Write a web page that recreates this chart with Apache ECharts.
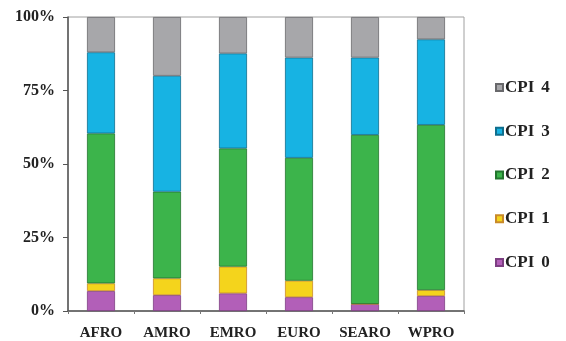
<!DOCTYPE html>
<html>
<head>
<meta charset="utf-8">
<script src="https://cdn.jsdelivr.net/npm/echarts@6/dist/echarts.min.js"></script>
<style>
  html, body { margin: 0; padding: 0; background: #ffffff; }
  #chart { width: 566px; height: 341px; }
</style>
</head>
<body>
<div id="chart"></div>
<script>
// Regions on the x axis
const regions = ['AFRO', 'AMRO', 'EMRO', 'EURO', 'SEARO', 'WPRO'];

// Share of each CPI level per region (percent)
const cpi0 = [6.8, 5.4, 6.0, 4.7, 2.4, 5.1];
const cpi1 = [2.6, 5.7, 9.1, 5.6, 0.0, 2.0];
const cpi2 = [51.0, 29.5, 40.2, 41.8, 57.5, 56.2];
const cpi3 = [27.6, 39.4, 32.3, 34.1, 26.3, 29.1];
const cpi4 = [12.0, 20.0, 12.4, 13.8, 13.8, 7.6];

// Y axis tick values
const yTicks = [0, 25, 50, 75, 100];

const seriesDefs = [
  { name: 'CPI 0', data: cpi0, color: '#b25fb8', border: '#7d3f82' },
  { name: 'CPI 1', data: cpi1, color: '#f4d41c', border: '#c98a2a' },
  { name: 'CPI 2', data: cpi2, color: '#3cb44b', border: '#23752e' },
  { name: 'CPI 3', data: cpi3, color: '#17b3e3', border: '#0f6f8e' },
  { name: 'CPI 4', data: cpi4, color: '#a7a7aa', border: '#68686b' }
];

const serifBold = {
  fontFamily: 'Liberation Serif',
  fontWeight: 'bold',
  color: '#222222'
};

const chart = echarts.init(document.getElementById('chart'), null, { renderer: 'canvas' });

chart.setOption({
  backgroundColor: '#ffffff',
  animation: false,
  grid: {
    left: 68, right: 102, top: 17, bottom: 30,
    show: true,
    borderColor: '#a0a0a0',
    borderWidth: 1
  },
  legend: {
    orient: 'vertical',
    left: 495,
    top: 79,
    padding: 0,
    itemWidth: 7,
    itemHeight: 7,
    itemGap: 26.75,
    icon: 'rect',
    data: ['CPI 4', 'CPI 3', 'CPI 2', 'CPI 1', 'CPI 0'],
    formatter: name => {
      const parts = name.split(' ');
      return '{a|' + parts[0] + '}{b|' + parts[1] + '}';
    },
    textStyle: Object.assign({
      fontSize: 17,
      padding: [0, 0, 0, -3],
      rich: {
        a: Object.assign({ fontSize: 17, lineHeight: 16 }, serifBold),
        b: Object.assign({ fontSize: 17, lineHeight: 16, padding: [0, 0, 0, 7] }, serifBold)
      }
    }, serifBold)
  },
  xAxis: {
    type: 'category',
    data: regions,
    axisLine: { lineStyle: { color: '#555555', width: 1.5 } },
    axisTick: { show: true, length: 3, lineStyle: { color: '#777777' } },
    axisLabel: Object.assign({ fontSize: 15, margin: 15, interval: 0 }, serifBold),
    splitLine: { show: false }
  },
  yAxis: {
    type: 'value',
    min: yTicks[0],
    max: yTicks[yTicks.length - 1],
    interval: 25,
    axisLine: { show: true, lineStyle: { color: '#555555', width: 1.5 } },
    axisTick: { show: true, length: 5, lineStyle: { color: '#555555' } },
    axisLabel: Object.assign({ fontSize: 16, margin: 13, formatter: '{value}%' }, serifBold),
    splitLine: { show: false }
  },
  series: seriesDefs.map(s => ({
    name: s.name,
    type: 'bar',
    stack: 'total',
    data: s.data,
    barWidth: 28,
    itemStyle: { color: s.color, borderColor: s.border, borderWidth: 0.8 },
    emphasis: { disabled: true }
  }))
});
</script>
</body>
</html>
